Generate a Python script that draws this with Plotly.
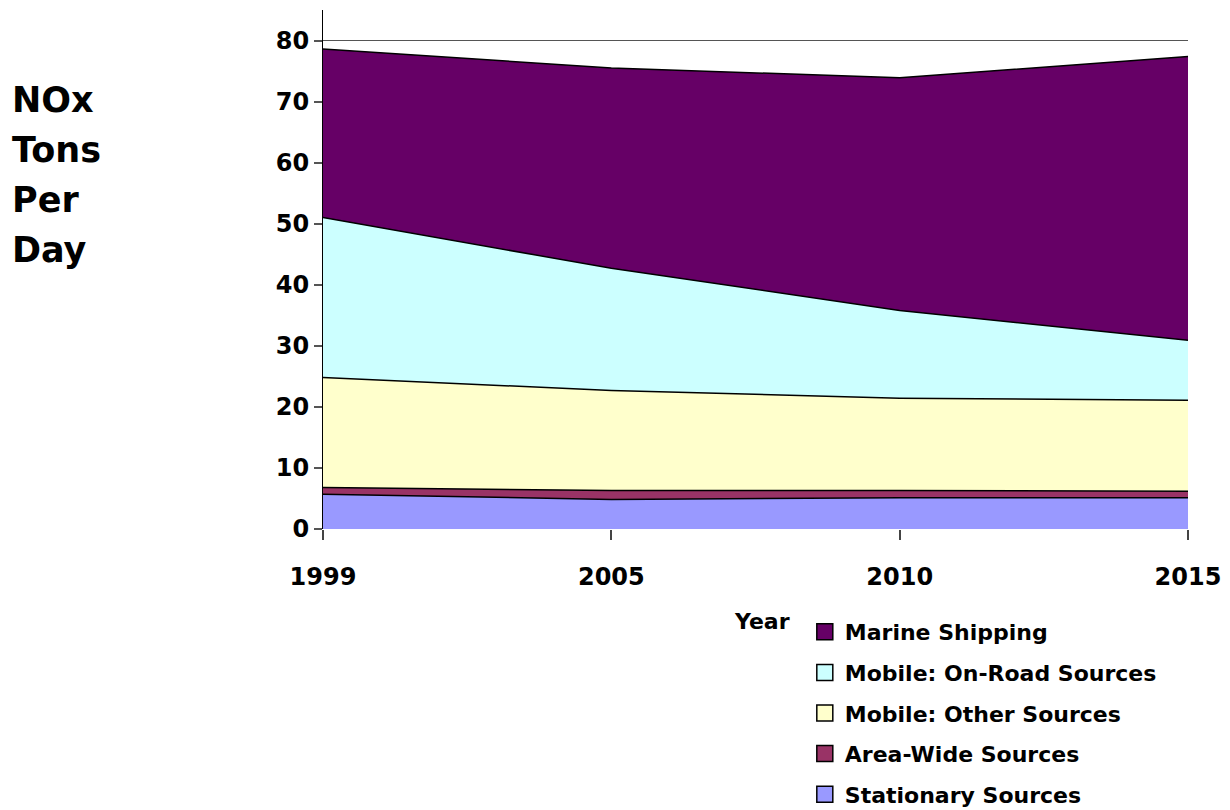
import plotly.graph_objects as go

years = ["1999", "2005", "2010", "2015"]
stationary = [5.7, 4.85, 5.1, 5.1]
area_wide = [1.1, 1.45, 1.2, 1.1]
mobile_other = [18.0, 16.4, 15.1, 14.9]
mobile_onroad = [26.2, 20.0, 14.4, 9.8]
marine = [27.6, 32.8, 38.1, 46.5]
y_title_lines = ["NOx", "Tons", "Per", "Day"]

series = [
    ("Stationary Sources", stationary, "#9999FF"),
    ("Area-Wide Sources", area_wide, "#993366"),
    ("Mobile: Other Sources", mobile_other, "#FFFFCC"),
    ("Mobile: On-Road Sources", mobile_onroad, "#CCFFFF"),
    ("Marine Shipping", marine, "#660066"),
]

FONT = "DejaVu Sans"

fig = go.Figure()
n = len(series)
for i, (name, vals, col) in enumerate(series):
    rank = n - i
    fig.add_trace(go.Scatter(
        x=years, y=vals, name=name, mode="lines", stackgroup="one",
        line=dict(color="black", width=1.5), fillcolor=col,
        legendgroup=name, showlegend=False, legendrank=rank,
    ))
    # legend swatch (square marker) tied to the area trace
    fig.add_trace(go.Scatter(
        x=[None], y=[None], name=name, mode="markers", legendgroup=name,
        marker=dict(symbol="square", size=16, color=col,
                    line=dict(color="black", width=1.5)),
        showlegend=True, legendrank=rank,
    ))

fig.update_layout(
    width=1230, height=810,
    paper_bgcolor="white", plot_bgcolor="white",
    margin=dict(l=323, r=42, t=10, b=281, autoexpand=False),
    font=dict(family=FONT, size=22, color="black", weight="bold"),
    showlegend=True,
    legend=dict(
        x=0.557, y=-0.158, xanchor="left", yanchor="top",
        traceorder="grouped", tracegroupgap=9,
        font=dict(size=22, family=FONT, weight="bold"),
        bgcolor="rgba(0,0,0,0)", itemsizing="trace",
    ),
    xaxis=dict(
        range=[0, 3], showgrid=False, showline=False, zeroline=False,
        ticks="outside", ticklen=10, tickcolor="#444", tickwidth=1.5,
        ticklabelstandoff=16,
        tickfont=dict(size=24, family=FONT, weight="bold"),
    ),
    yaxis=dict(
        range=[0, 85], dtick=10, showgrid=True, gridcolor="#555", gridwidth=1,
        showline=True, linecolor="black", linewidth=1, zeroline=False,
        ticks="outside", ticklen=8, tickcolor="#555", tickwidth=1.5,
        tickfont=dict(size=24, family=FONT, weight="bold"),
    ),
)

for i, line in enumerate(y_title_lines):
    fig.add_annotation(
        text=line, xref="paper", yref="paper",
        x=-0.362, y=0.8266 - i * 0.0963, xanchor="left", yanchor="middle",
        align="left", showarrow=False,
        font=dict(size=35, family=FONT, weight="bold"),
    )
fig.add_annotation(
    text="Year", xref="paper", yref="paper",
    x=0.5075, y=-0.179, xanchor="center", yanchor="middle",
    showarrow=False, font=dict(size=22, family=FONT, weight="bold"),
)

fig.write_html("out.html")
